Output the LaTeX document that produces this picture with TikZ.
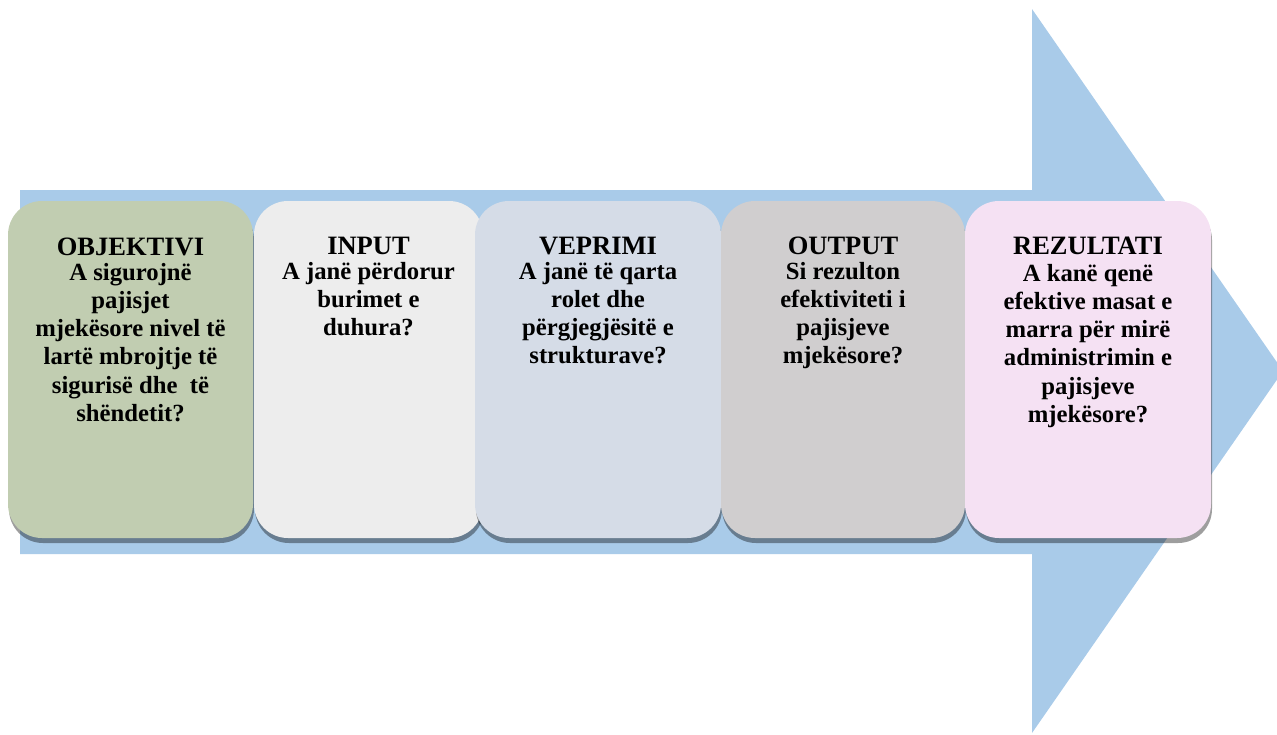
\documentclass[tikz,border=0pt]{standalone}
\usepackage{fontspec}
\setmainfont{Liberation Serif}
\definecolor{arrowblue}{HTML}{A9CBE9}
\definecolor{cOne}{HTML}{C1CDB1}
\definecolor{cTwo}{HTML}{EDEDED}
\definecolor{cThree}{HTML}{D5DCE7}
\definecolor{cFour}{HTML}{D0CECF}
\definecolor{cFive}{HTML}{F5E1F3}
\tikzset{
  stagebox/.style={rounded corners=34pt, draw=none},
  stageshadow/.style={rounded corners=34pt, fill=black, fill opacity=0.38, draw=none},
  stagetitle/.style={anchor=base, inner sep=0pt, font=\bfseries\fontsize{26.5}{30}\selectfont},
  stagetext/.style={anchor=north, inner sep=0pt, align=center, font=\bfseries\fontsize{24.7}{28.2}\selectfont}
}
% first line of a question starts 22pt above its baseline
\newcommand{\firstline}{\rule{0pt}{22pt}}
\newcommand{\stage}[4]{%
  % #1 name, #2 left, #3 right, #4 colour
  \fill[stageshadow] (#2+1,206) rectangle (#3+1,543);
  \fill[stagebox, fill=#4] (#2,201) rectangle (#3,538);
  \coordinate (#1-c) at ({(#2+#3)/2},0);
}
\begin{document}
\begin{tikzpicture}[x=1pt,y=-1pt]
\useasboundingbox (0,0) rectangle (1277,734);
% big process arrow behind the stages
\fill[arrowblue] (20,190) -- (1032,190) -- (1032,9) -- (1283,371)
  -- (1032,733) -- (1032,554) -- (20,554) -- cycle;
% stages
\stage{s1}{8}{253}{cOne}
\stage{s2}{254}{483}{cTwo}
\stage{s3}{475}{721}{cThree}
\stage{s4}{721}{965}{cFour}
\stage{s5}{965}{1211}{cFive}
% titles
\node[stagetitle] (t1) at (130.5,255) {OBJEKTIVI};
\node[stagetitle] (t2) at (368.5,254) {INPUT};
\node[stagetitle] (t3) at (598,254) {VEPRIMI};
\node[stagetitle] (t4) at (843,254) {OUTPUT};
\node[stagetitle] (t5) at (1088,254) {REZULTATI};
% questions (first baseline 22pt below the node top)
\node[stagetext] (q1) at (130.5,258) {\firstline A sigurojnë\\pajisjet\\mjekësore nivel të\\lartë mbrojtje të\\sigurisë dhe\ \ të\\shëndetit?};
\node[stagetext] (q2) at (368.5,257) {\firstline A janë përdorur\\burimet e\\duhura?};
\node[stagetext] (q3) at (598,257) {\firstline A janë të qarta\\rolet dhe\\përgjegjësitë e\\strukturave?};
\node[stagetext] (q4) at (843,257) {\firstline Si rezulton\\efektiviteti i\\pajisjeve\\mjekësore?};
\node[stagetext] (q5) at (1088,259) {\firstline A kanë qenë\\efektive masat e\\marra për mirë\\administrimin e\\pajisjeve\\mjekësore?};
\end{tikzpicture}
\end{document}
